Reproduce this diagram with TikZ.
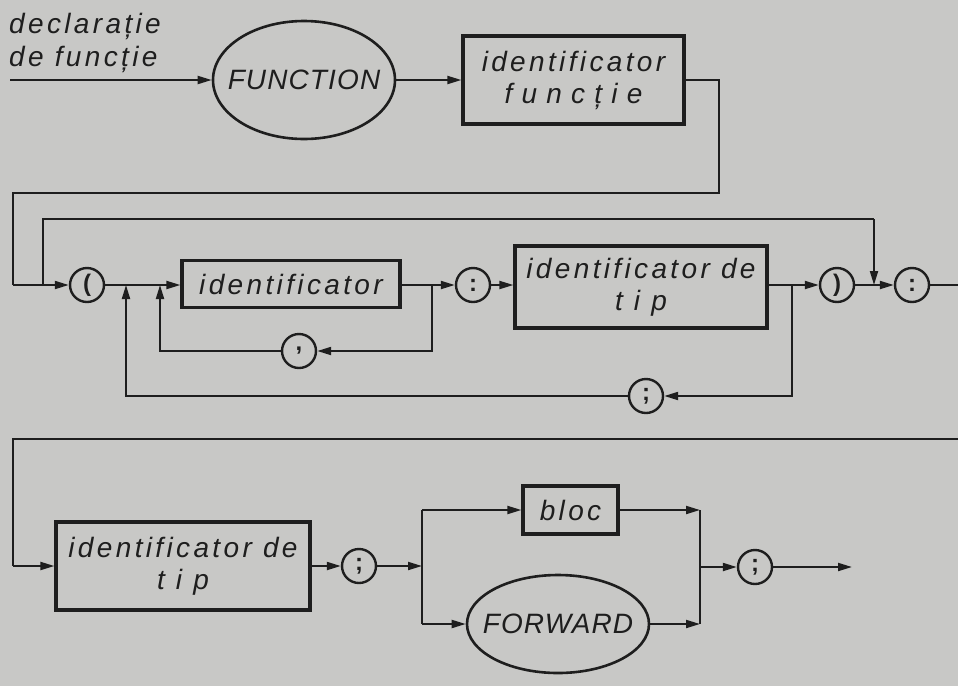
\documentclass[tikz,border=0pt]{standalone}
\usepackage{fontspec}
\setmainfont{Liberation Sans}
\usetikzlibrary{arrows.meta,shapes.geometric}
\definecolor{paper}{RGB}{200,200,198}
\definecolor{ink}{RGB}{30,30,30}
\newfontfamily\lettfont[LetterSpace=12]{Liberation Sans}
\newfontfamily\capfont[LetterSpace=4]{Liberation Sans}
\newfontfamily\widefont[LetterSpace=33]{Liberation Sans}
\begin{document}
\begin{tikzpicture}[x=1pt,y=-1pt,
  conn/.style={draw=ink,line width=2pt},
  arr/.style={conn,-{Triangle[length=14pt,width=8pt]}},
  boxnode/.style={draw=ink,line width=3.2pt,rectangle,inner sep=0pt,align=center,text=ink,
     font=\lettfont\itshape\fontsize{28}{32}\selectfont},
  ovalnode/.style={draw=ink,line width=2.6pt,ellipse,inner xsep=-22pt,inner ysep=0pt,text=ink,
     font=\capfont\itshape\fontsize{28}{32}\selectfont},
  rnd/.style={draw=ink,line width=2.4pt,circle,minimum size=34pt,inner sep=0pt,text=ink,
     font=\bfseries\fontsize{24}{24}\selectfont},
  lbl/.style={text=ink,align=left,inner sep=0pt,font=\lettfont\itshape\fontsize{28}{33}\selectfont}
]
\fill[paper] (0,0) rectangle (958,686);
\useasboundingbox (0,0) rectangle (958,686);

% ---- row 1
\node[lbl,anchor=base west] (decl) at (9,66) {declarație\\de funcție};
\coordinate (start) at (10,80);
\node[ovalnode,minimum width=182pt,minimum height=118pt] (fn) at (304,80) {FUNCTION};
\node[boxnode,minimum width=221pt,minimum height=88pt] (idf) at (573.5,80) {identificator\\{\widefont funcție}};
\coordinate (r1a) at (719,80);
\coordinate (r1b) at (719,193);
\coordinate (r1c) at (13,193);
\coordinate (r1d) at (13,285);

\draw[arr] (start) -- (fn.west);
\draw[arr] (fn.east) -- (idf.west);

% ---- row 2
\node[rnd] (lp) at (87,285) {(};
\node[boxnode,minimum width=218pt,minimum height=47pt] (idb) at (291,284) {identificator};
\node[rnd] (col1) at (473,285) {:};
\node[boxnode,minimum width=252pt,minimum height=82pt] (itd1) at (641,287) {identificator de\\t i p};
\node[rnd] (rp) at (837,285) {)};
\node[rnd] (col2) at (912,285) {:};
\node[rnd] (comma) at (299,351) {,};
\node[rnd] (semi1) at (646,396) {;};

\coordinate (j0) at (43,285);
\coordinate (j1) at (126,285);
\coordinate (j2) at (160,285);
\coordinate (j3) at (432,285);
\coordinate (j4) at (792,285);
\coordinate (j5) at (874,285);
\coordinate (t0) at (43,219);
\coordinate (t1) at (874,219);
\coordinate (c1) at (432,351);
\coordinate (c2) at (160,351);
\coordinate (s1) at (792,396);
\coordinate (s2) at (126,396);
\coordinate (e1) at (958,285);

\draw[conn] (idf.east) -- (r1a) -- (r1b) -- (r1c) -- (r1d);
\draw[arr] (r1d) -- (lp.west);
\draw[conn] (j0) -- (t0) -- (t1);
\draw[arr] (t1) -- (j5);
\draw[arr] (lp.east) -- (idb.west |- lp.east);
\draw[arr] (idb.east |- col1.west) -- (col1.west);
\draw[arr] (col1.east) -- (itd1.west |- col1.east);
\draw[arr] (itd1.east |- rp.west) -- (rp.west);
\draw[arr] (rp.east) -- (col2.west);
\draw[conn] (col2.east) -- (e1);
% inner loop
\draw[arr] (j3) -- (c1) -- (comma.east);
\draw[arr] (comma.west) -- (c2) -- (j2);
% outer loop
\draw[arr] (j4) -- (s1) -- (semi1.east);
\draw[arr] (semi1.west) -- (s2) -- (j1);

% ---- row 3
\coordinate (e2) at (958,439);
\coordinate (k0) at (13,439);
\coordinate (k1) at (13,566);
\node[boxnode,minimum width=254pt,minimum height=88pt] (itd2) at (183,566) {identificator de\\t i p};
\node[rnd] (semi2) at (359,566) {;};
\coordinate (sp) at (422,566);
\coordinate (sp1) at (422,510);
\coordinate (sp2) at (422,624);
\node[boxnode,minimum width=95pt,minimum height=48pt] (bloc) at (570.5,510) {bloc};
\node[ovalnode,minimum width=182pt,minimum height=98pt] (fwd) at (558,624) {FORWARD};
\coordinate (m1) at (700,510);
\coordinate (m2) at (700,624);
\coordinate (m0) at (700,567);
\node[rnd] (semi3) at (755,567) {;};
\coordinate (endp) at (852,567);

\draw[conn] (e2) -- (k0) -- (k1);
\draw[arr] (k1) -- (itd2.west);
\draw[arr] (itd2.east) -- (semi2.west);
\draw[arr] (semi2.east) -- (sp);
\draw[conn] (sp1) -- (sp2);
\draw[arr] (sp1) -- (bloc.west);
\draw[arr] (sp2) -- (fwd.west);
\draw[arr] (bloc.east) -- (m1);
\draw[arr] (fwd.east) -- (m2);
\draw[conn] (m1) -- (m2);
\draw[arr] (m0) -- (semi3.west);
\draw[arr] (semi3.east) -- (endp);
\end{tikzpicture}
\end{document}
